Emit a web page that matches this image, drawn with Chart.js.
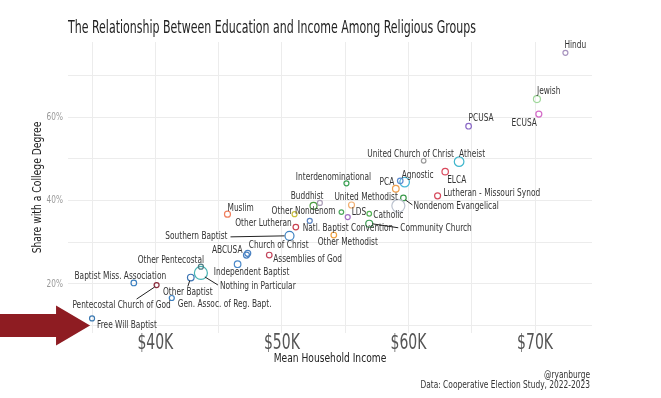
<!DOCTYPE html>
<html>
<head>
<meta charset="utf-8">
<script src="https://cdn.jsdelivr.net/npm/chart.js@4"></script>
<style>
  body { margin: 0; background: #fff; }
</style>
</head>
<body>
<canvas id="chart" width="661" height="398"></canvas>
<script>
const FONT = '"DejaVu Sans Condensed", "DejaVu Sans", Roboto, sans-serif';

// religious groups ('' = point drawn without a label)
const groups = [
  'Hindu', 'Jewish', 'ECUSA', 'PCUSA', 'United Church of Christ', 'Atheist',
  'ELCA', 'Agnostic', 'PCA', 'United Methodist', 'Nondenom Evangelical', 'Catholic',
  'Lutheran - Missouri Synod', 'Interdenominational', 'Buddhist', '',
  'Other Nondenom', '', '', 'LDS', '', 'Natl. Baptist Convention',
  'Community Church', 'Other Lutheran', 'Other Methodist', 'Southern Baptist', 'Muslim',
  'ABCUSA', 'Church of Christ', 'Assemblies of God', 'Independent Baptist',
  'Nothing in Particular', 'Other Pentecostal', 'Other Baptist', 'Baptist Miss. Association',
  'Pentecostal Church of God', 'Gen. Assoc. of Reg. Bapt.', 'Free Will Baptist'
];
// mean household income, $K
const income = [
  72.4, 70.15, 70.3, 64.75, 61.2, 64.0,
  62.9, 59.7, 59.35, 59.0, 59.6, 59.2,
  62.3, 55.1, 52.5, 53.0,
  51.0, 55.5, 54.7, 55.2, 56.9, 52.2,
  56.9, 51.1, 54.1, 50.6, 45.7,
  47.2, 47.3, 49.0, 46.5,
  43.6, 43.6, 42.8, 38.3,
  40.1, 41.3, 35.0
];
// share with a college degree, %
const college = [
  75.4, 64.3, 60.7, 57.8, 49.5, 49.3,
  46.9, 44.4, 44.7, 42.8, 40.6, 38.7,
  41.1, 44.1, 38.7, 39.4,
  36.7, 38.9, 37.2, 36.0, 36.8, 35.1,
  34.4, 33.6, 31.7, 31.5, 36.7,
  26.9, 27.3, 26.9, 24.7,
  22.6, 24.1, 21.5, 20.2,
  19.7, 16.6, 11.7
];
const xTicks = [35, 40, 45, 50, 55, 60, 65, 70];
const yTicks = [10, 20, 30, 40, 50, 60, 70];

// styles per point
const colors = [
  '#a793bf', '#9fd89a', '#d46bc8', '#8a68c6', '#9a9a9a', '#3fb6cc',
  '#d9485c', '#49b9d9', '#5b8bd2', '#f0a04e', '#3c9a4c', '#bcc3cf',
  '#d64a5c', '#3aa153', '#4b9b40', '#ab9db7',
  '#c9bf3c', '#f2b072', '#4fa95f', '#a26fc4', '#52b153', '#5581c3',
  '#3c9b52', '#c8404f', '#f0a03e', '#3d82c2', '#f0805f',
  '#4a82c2', '#4a82c2', '#c2435a', '#4a88c9',
  '#43b3b3', '#4e7b82', '#3a72b2', '#3b7fbf',
  '#8a2a3a', '#3b7fbf', '#3a78b1'
];
const radii = [
  2.5, 3.5, 3, 2.8, 2.3, 4.8,
  3.2, 4.8, 2.8, 3.3, 2.8, 6.5,
  3, 2.5, 3.5, 2.5,
  2.5, 3, 2.3, 2.5, 2.3, 2.5,
  3.5, 2.8, 2.8, 4.5, 3,
  3, 3, 2.8, 3.3,
  6.5, 2.5, 3.3, 2.8,
  2.5, 2.5, 2.5
];
// label placement relative to the point: [dx, dy, align, leader line]
const labelPlace = [
  [-1, -8, 'left'], [0, -8, 'left'], [-2, 9, 'right'], [0, -8, 'left'], [-13, -7, 'center'], [0, -8, 'left'],
  [2, 8, 'left'], [-3, -7, 'left'], [-6, 1, 'right'], [2, 8.5, 'right'], [10, 8, 'left', [2, 2, 9, 7]], [-10, 9, 'center'],
  [6, -3, 'left'], [-13, -6.5, 'center'], [-6.5, -10, 'center'], null,
  [9, -3, 'center'], null, null, [4, -5, 'left'], null, [-7, 7, 'left'],
  [31, 4, 'left', [3, 0, 29, 4]], [-4, -4, 'right'], [14, 7, 'center'], [-62, 0, 'right', [-59, 1, -5, 0]], [0, -6, 'left'],
  [-4, -5, 'right'], [1, -8, 'left'], [4, 4, 'left'], [14, 8, 'center'],
  [19, 13, 'left', [4, 4, 17, 12]], [-30, -7, 'center'], [-3, 15, 'center', [-1, 3, -3, 9]], [-13.5, -7, 'center'],
  [-35, 20, 'center', [-2, 2, -20, 14]], [6, 6, 'left'], [5, 7, 'left']
];

const points = income.map((v, i) => ({ x: v, y: college[i] }));

// narrow text: the original uses a condensed face, so squeeze horizontally
function narrowText(ctx, text, x, y, align, size, sx, rot) {
  ctx.save();
  ctx.translate(x, y);
  if (rot) ctx.rotate(rot);
  ctx.scale(sx, 1);
  ctx.font = size + 'px ' + FONT;
  ctx.textAlign = align;
  ctx.textBaseline = 'middle';
  ctx.fillText(text, 0, 0);
  ctx.restore();
}

const decorPlugin = {
  id: 'decor',
  afterDatasetsDraw(chart) {
    const ctx = chart.ctx;
    const meta = chart.getDatasetMeta(0);
    const xs = chart.scales.x, ys = chart.scales.y;
    const area = chart.chartArea;
    ctx.save();
    // axis tick labels
    ctx.fillStyle = '#555';
    xs.ticks.forEach(t => {
      if (t.value % 10 === 0) narrowText(ctx, '$' + t.value + 'K', xs.getPixelForValue(t.value), 344, 'center', 21, 0.74);
    });
    ctx.fillStyle = '#999';
    ys.ticks.forEach(t => {
      if (t.value % 20 === 0) narrowText(ctx, t.value + '%', 63, ys.getPixelForValue(t.value), 'right', 10.5, 0.78);
    });
    // axis titles
    ctx.fillStyle = '#222';
    narrowText(ctx, 'Mean Household Income', (area.left + area.right) / 2, 359, 'center', 13, 0.78);
    narrowText(ctx, 'Share with a College Degree', 38, (area.top + area.bottom) / 2, 'center', 13, 0.79, -Math.PI / 2);
    // point labels
    ctx.fillStyle = '#333';
    ctx.strokeStyle = '#222';
    ctx.lineWidth = 1;
    meta.data.forEach((pt, i) => {
      const lab = labelPlace[i];
      if (!groups[i] || !lab) return;
      narrowText(ctx, groups[i], pt.x + lab[0], pt.y + lab[1], lab[2], 11, 0.75);
      if (lab[3]) {
        const l = lab[3];
        ctx.beginPath();
        ctx.moveTo(pt.x + l[0], pt.y + l[1]);
        ctx.lineTo(pt.x + l[2], pt.y + l[3]);
        ctx.stroke();
      }
    });
    // arrow pointing at Free Will Baptist
    const fw = meta.data[groups.indexOf('Free Will Baptist')];
    const tipX = fw.x - 2, tipY = fw.y + 7;
    ctx.fillStyle = '#8e1c22';
    ctx.beginPath();
    ctx.moveTo(0, tipY - 11.5);
    ctx.lineTo(tipX - 34, tipY - 11.5);
    ctx.lineTo(tipX - 34, tipY - 20);
    ctx.lineTo(tipX, tipY);
    ctx.lineTo(tipX - 34, tipY + 20);
    ctx.lineTo(tipX - 34, tipY + 11.5);
    ctx.lineTo(0, tipY + 11.5);
    ctx.closePath();
    ctx.fill();
    // title and caption
    ctx.fillStyle = '#222';
    narrowText(ctx, 'The Relationship Between Education and Income Among Religious Groups', 68, 29, 'left', 17, 0.72);
    ctx.fillStyle = '#333';
    narrowText(ctx, '@ryanburge', 590, 375, 'right', 10, 0.83);
    narrowText(ctx, 'Data: Cooperative Election Study, 2022-2023', 590, 385, 'right', 10, 0.83);
    ctx.restore();
  }
};

new Chart(document.getElementById('chart').getContext('2d'), {
  type: 'scatter',
  data: {
    datasets: [{
      data: points,
      backgroundColor: 'rgba(0,0,0,0)',
      borderColor: colors,
      pointRadius: radii,
      pointBorderWidth: 1.2
    }]
  },
  options: {
    responsive: false,
    animation: false,
    layout: { padding: { top: 42, right: 69, bottom: 33, left: 0 } },
    plugins: { legend: { display: false }, tooltip: { enabled: false } },
    scales: {
      x: {
        type: 'linear',
        min: 33.1,
        max: 74.5,
        afterBuildTicks: (scale) => { scale.ticks = xTicks.map(v => ({ value: v })); },
        afterFit: (scale) => { scale.height = 32; },
        grid: { color: '#ececec', drawTicks: false },
        border: { display: false },
        ticks: { display: false }
      },
      y: {
        min: 8.2,
        max: 78,
        afterBuildTicks: (scale) => { scale.ticks = yTicks.map(v => ({ value: v })); },
        afterFit: (scale) => { scale.width = 68; },
        grid: { color: '#ececec', drawTicks: false },
        border: { display: false },
        ticks: { display: false }
      }
    }
  },
  plugins: [decorPlugin]
});
</script>
</body>
</html>
